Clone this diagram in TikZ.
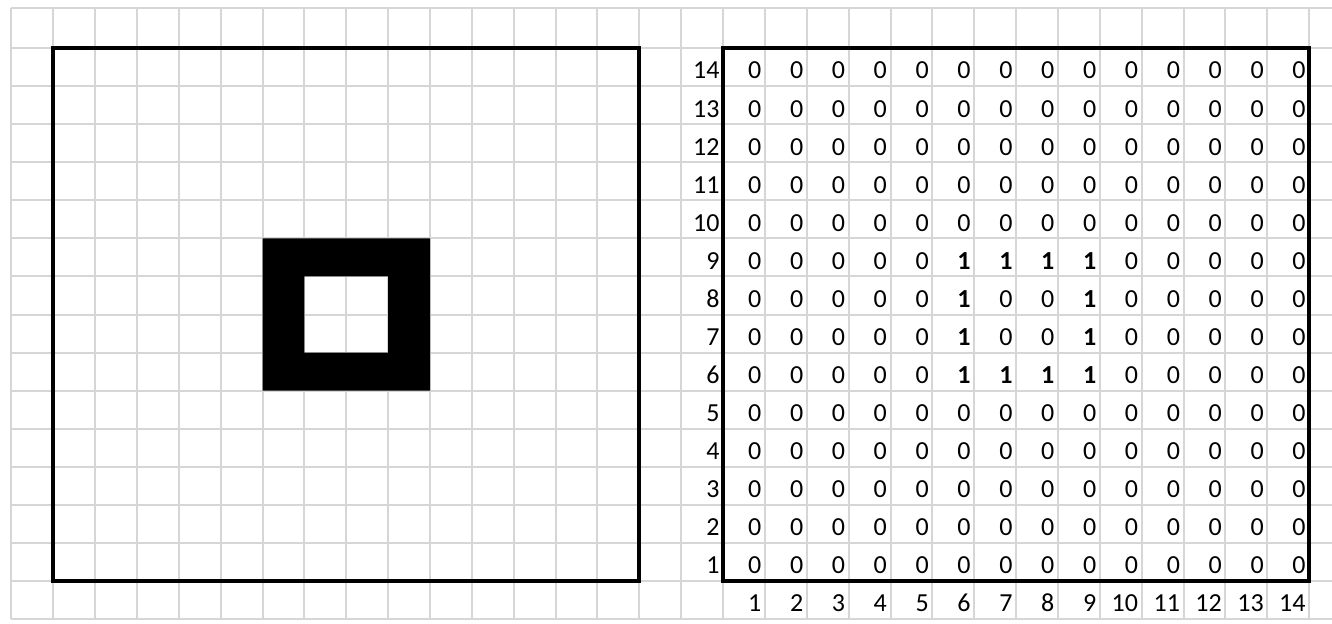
\documentclass[tikz,border=0pt]{standalone}
\usepackage{fontspec}
\setmainfont{Carlito}
\definecolor{gridgray}{RGB}{214,214,214}

\begin{document}
\begin{tikzpicture}[
  x=31.395pt, y=28.545pt,
  font=\fontsize{19.5}{22}\selectfont,
  gridline/.style={draw=gridgray, line width=1.5pt},
  frame/.style={draw=black, line width=3pt},
  cell/.style={anchor=base east, inner sep=0pt},
  onecell/.style={cell, font=\fontsize{19.5}{22}\selectfont\bfseries}
]
\useasboundingbox (-0.2723,-0.105) rectangle (31.546,16.264);

% sheet grid
\foreach \i in {0,...,31} \draw[gridline] (\i,0) -- (\i,16.05);
\foreach \j in {0,...,15} \draw[gridline] (0,\j) -- (31.546,\j);
\draw[gridline] (0,16.05) -- (31.546,16.05);

% picture
\fill[black, even odd rule] (6,6) rectangle (10,10) (7,7) rectangle (9,9);
\draw[frame] (1,1) rectangle (15,15);

% matrix
\draw[frame] (17,1) rectangle (31,15);
\foreach \r in {1,...,14} {
  \node[cell] (rl-\r) at (16.92, \r+0.19) {\r};
  \foreach \c in {1,...,14} {
    \pgfmathtruncatemacro\val{and(and(\r>5,\r<10),and(\c>5,\c<10))*or(or(\r==6,\r==9),or(\c==6,\c==9))}
    \ifnum\val=1
      \node[onecell] (m-\r-\c) at (16.92+\c, \r+0.19) {1};
    \else
      \node[cell] (m-\r-\c) at (16.92+\c, \r+0.19) {0};
    \fi
  }
}
\foreach \c in {1,...,14}
  \node[cell] (cl-\c) at (16.92+\c, 0.19) {\c};
\end{tikzpicture}
\end{document}
